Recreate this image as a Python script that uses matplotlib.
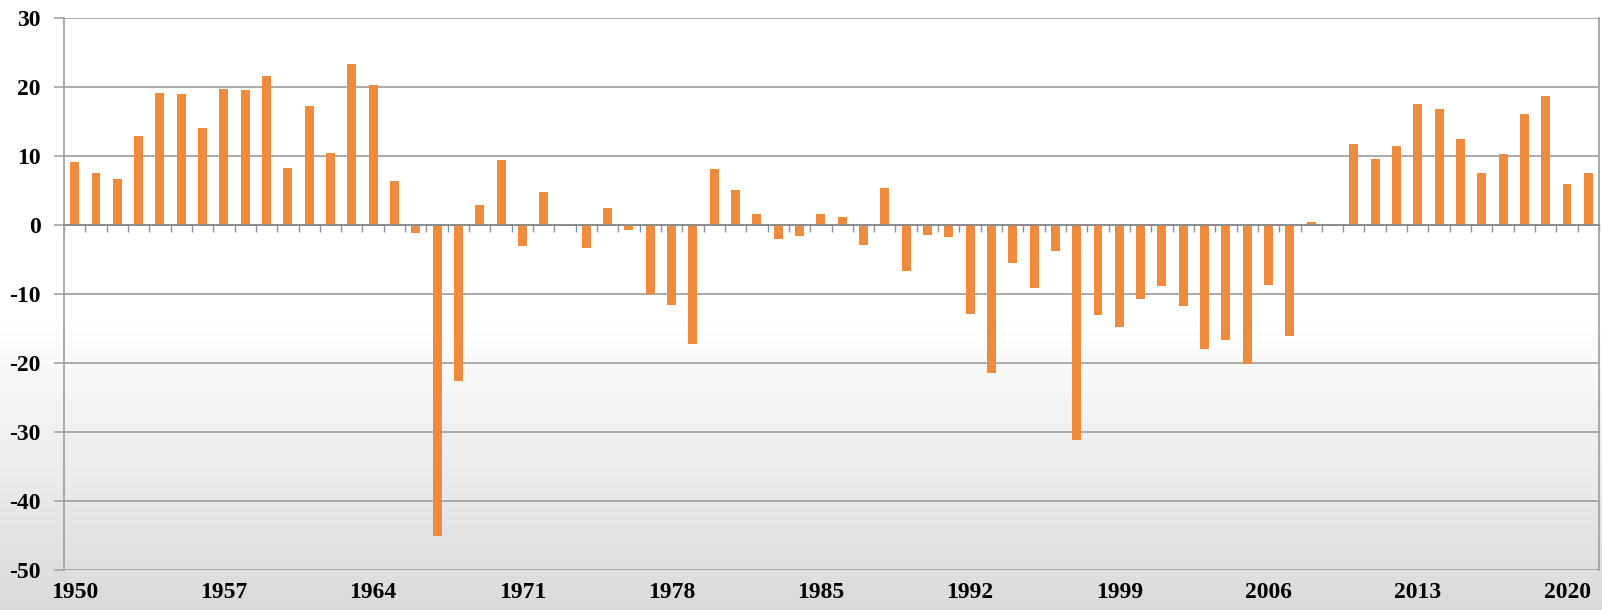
import matplotlib
matplotlib.use('Agg')
import matplotlib.pyplot as plt
import numpy as np

years = list(range(1950, 2022))
values = [9.2, 7.5, 6.6, 12.9, 19.2, 19.0, 14.0, 19.7, 19.5, 21.6,
          8.3, 17.2, 10.5, 23.3, 20.3, 6.4, -1.2, -45.0, -22.6, 2.9,
          9.4, -3.1, 4.8, 0.0, -3.3, 2.5, -0.7, -10.0, -11.6, -17.3,
          8.1, 5.1, 1.6, -2.0, -1.6, 1.6, 1.2, -2.9, 5.3, -6.6,
          -1.4, -1.8, -12.9, -21.4, -5.5, -9.2, -3.8, -31.2, -13.0, -14.8,
          -10.7, -8.9, -11.8, -17.9, -16.6, -20.2, -8.7, -16.1, 0.5, 0.2,
          11.8, 9.6, 11.4, 17.6, 16.8, 12.5, 7.5, 10.3, 16.1, 18.7,
          5.9, 7.5]
label_years = [1950, 1957, 1964, 1971, 1978, 1985, 1992, 1999, 2006, 2013, 2020]
y_ticks = [-50, -40, -30, -20, -10, 0, 10, 20, 30]

bar_color = '#f08a3c'
grid_color = '#a3a3a3'
font = dict(family='Liberation Serif', weight='bold', size=17)

fig = plt.figure(figsize=(16.02, 6.10), dpi=100)

# background: white on top, fading to light grey towards the bottom
bg = fig.add_axes([0, 0, 1, 1], zorder=-10)
rows = np.linspace(0, 1, 610)
shade = np.clip((rows - 0.52) / 0.48, 0, 1)
col = 1.0 - 0.15 * shade
bg.imshow(np.repeat(col[:, None], 2, axis=1), cmap='gray', vmin=0, vmax=1,
          aspect='auto', extent=[0, 1, 0, 1], origin='upper')
bg.axis('off')

ax = fig.add_axes([64 / 1602, 1 - 570 / 610, (1599 - 64) / 1602, (570 - 18) / 610])
ax.set_facecolor('none')

ax.bar(years, values, width=0.42, color=bar_color, zorder=3)

ax.set_xlim(years[0] - 0.5, years[-1] + 0.5)
ax.set_ylim(-50, 30)
ax.set_yticks(y_ticks)
ax.set_yticklabels([str(v) for v in y_ticks], fontdict=font)
ax.yaxis.grid(True, color=grid_color, linewidth=1.3, zorder=0)
ax.tick_params(axis='y', direction='out', length=7, width=1.2, color=grid_color, pad=10)

# zero line with small category ticks
ax.spines['bottom'].set_position(('data', 0))
ax.spines['bottom'].set_color('#8a8a8a')
ax.spines['bottom'].set_linewidth(1.3)
ax.spines['bottom'].set_zorder(4)
ax.set_xticks([])
ax.set_xticks(np.arange(years[0] - 0.5, years[-1] + 1.0, 1.0), minor=True)
ax.tick_params(axis='x', which='minor', direction='out', length=5, width=1.0,
               color='#8190a6')

ax.spines['top'].set_visible(False)
for side in ['left', 'right']:
    ax.spines[side].set_color(grid_color)
    ax.spines[side].set_linewidth(1.3)

# year labels at the bottom of the plot area
sec = ax.secondary_xaxis(0.0)
sec.set_xticks(label_years)
sec.set_xticklabels([str(y) for y in label_years], fontdict=font)
sec.tick_params(length=0, pad=9)
sec.spines['bottom'].set_visible(False)

plt.savefig('out.png', dpi=100)
